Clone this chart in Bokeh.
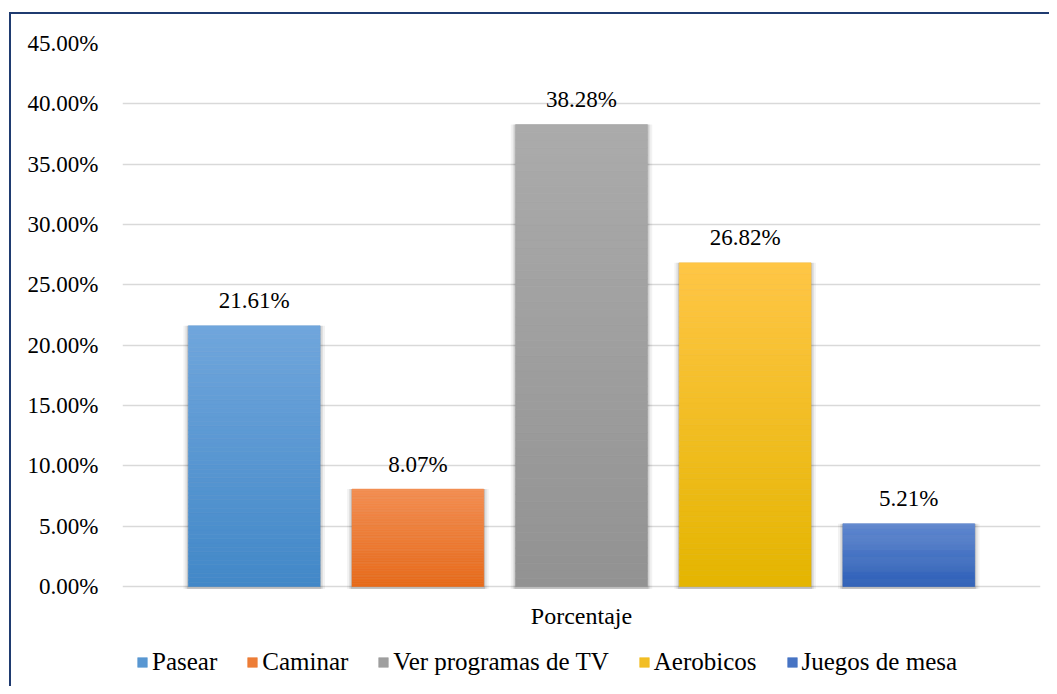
import numpy as np
from bokeh.plotting import figure
from bokeh.models import (ColumnDataSource, FactorRange, Range1d, FixedTicker,
                          NumeralTickFormatter, Legend, LegendItem)
from bokeh.core.properties import value
from bokeh.embed import file_html
from bokeh.resources import INLINE

# ---- data ----
series = ["Pasear", "Caminar", "Ver programas de TV", "Aerobicos", "Juegos de mesa"]
values = [0.2161, 0.0807, 0.3828, 0.2682, 0.0521]
category_label = "Porcentaje"
y_ticks = [0.0, 0.05, 0.10, 0.15, 0.20, 0.25, 0.30, 0.35, 0.40, 0.45]
top_colors = ["#70a6dc", "#f38e52", "#ababab", "#ffc646", "#6088d0"]
bottom_colors = ["#4288c8", "#e76b1b", "#929292", "#e4b500", "#2e60b8"]

FONT = "'Liberation Serif'"
FS = "23px"
N = 60
BAR_W = 0.805

PLOT_H = 543          # pixels for 0 .. 45 %
EXTRA_H = 100         # room under the zero line for the category label and legend
Y_MAX = y_ticks[-1]
Y_MIN = -Y_MAX * EXTRA_H / PLOT_H


def mix(c1, c2, t):
    a = np.array([int(c1[i:i + 2], 16) for i in (1, 3, 5)], dtype=float)
    b = np.array([int(c2[i:i + 2], 16) for i in (1, 3, 5)], dtype=float)
    c = a + (b - a) * t
    return "#%02x%02x%02x" % tuple(int(round(x)) for x in c)


p = figure(
    x_range=FactorRange(factors=series, range_padding=0.122),
    y_range=Range1d(Y_MIN, Y_MAX),
    frame_width=918, frame_height=PLOT_H + EXTRA_H,
    min_border_left=111, min_border_right=9, min_border_top=29, min_border_bottom=0,
    output_backend="svg", toolbar_location=None,
    styles={"border-left": "2px solid #1f3b70", "border-top": "2px solid #1f3b70",
            "margin-top": "12px", "margin-left": "9px"},
)
p.outline_line_color = None
p.background_fill_color = "white"
p.border_fill_color = "white"

# shadows
for extra, alpha in [(0.06, 0.05), (0.035, 0.08), (0.015, 0.12)]:
    p.vbar(x=series, top=values, bottom=-0.002, width=BAR_W + extra,
           fill_color="#000000", fill_alpha=alpha, line_color=None)

# gradient bars built from data
renderers = []
for i, (name, v) in enumerate(zip(series, values)):
    ks = np.arange(N)
    bottoms = v * ks / N
    tops = v * (ks + 1) / N
    cols = [mix(bottom_colors[i], top_colors[i], (k + 0.5) / N) for k in ks]
    src = ColumnDataSource(dict(x=[name] * N, bottom=bottoms, top=tops, color=cols))
    r = p.vbar(x="x", bottom="bottom", top="top", width=BAR_W, source=src,
               fill_color="color", line_color="color", line_width=0.6)
    renderers.append(r)

# data labels
lbl_src = ColumnDataSource(dict(x=series, y=values,
                                t=["%.2f%%" % (v * 100) for v in values]))
p.text(x="x", y="y", text="t", source=lbl_src, text_align="center",
       text_baseline="alphabetic", y_offset=-25, text_font=value(FONT),
       text_font_size=FS, text_color="#000000")

# category label, centred under the group
p.text(x=[series[len(series) // 2]], y=[0], text=[category_label],
       text_align="center", text_baseline="middle", y_offset=29,
       text_font=value(FONT), text_font_size="24px", text_color="#000000")

# axes
p.yaxis.ticker = FixedTicker(ticks=y_ticks)
p.yaxis.formatter = NumeralTickFormatter(format="0.00%")
p.yaxis.axis_line_color = None
p.yaxis.major_tick_line_color = None
p.yaxis.minor_tick_line_color = None
p.yaxis.major_tick_out = 0
p.yaxis.major_label_standoff = 24
p.yaxis.major_label_text_font = FONT
p.yaxis.major_label_text_font_size = FS
p.yaxis.major_label_text_color = "#000000"

p.xaxis.visible = False

p.xgrid.grid_line_color = None
p.ygrid.grid_line_color = "#d9d9d9"
p.ygrid.grid_line_width = 1.6

items = [LegendItem(label=s, renderers=[r], index=N // 2) for s, r in zip(series, renderers)]
legend = Legend(items=items, orientation="horizontal", location=(14, 10),
                glyph_width=12, glyph_height=12, label_standoff=4, spacing=29,
                padding=0, margin=0, border_line_color=None,
                background_fill_alpha=0, label_text_font=FONT,
                label_text_font_size="25px", label_text_color="#000000")
p.add_layout(legend, "center")

open("out.html", "w").write(file_html(p, INLINE))
